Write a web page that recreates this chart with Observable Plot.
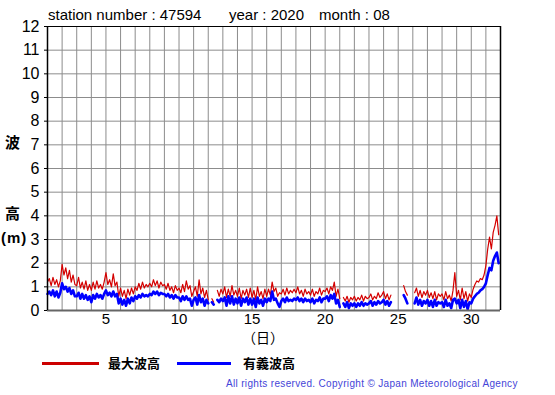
<!DOCTYPE html>
<html>
<head>
<meta charset="utf-8">
<script src="https://cdn.jsdelivr.net/npm/d3@7"></script>
<script src="https://cdn.jsdelivr.net/npm/@observablehq/plot@0.6"></script>
<style>
  body { margin: 0; background: #fff; font-family: "Liberation Sans", Arial, sans-serif; }
  #wrap { position: relative; width: 555px; height: 395px; overflow: hidden; }
  #chart { position: absolute; left: 0; top: 0; }
  .abs { position: absolute; white-space: nowrap; line-height: 1; }
  .title { font-size: 15px; color: #000; top: 7px; }
  .ylab { font-family: "Noto Sans CJK JP", sans-serif; font-size: 15px; font-weight: bold; color: #000; }
  .leg { font-family: "Noto Sans CJK JP", sans-serif; font-size: 13px; font-weight: bold; color: #000; top: 356px; }
  .swatch { position: absolute; height: 3px; top: 362px; }
  .copy { font-size: 10px; color: #4444d8; letter-spacing: 0.33px; top: 379px; left: 226px; }
</style>
</head>
<body>
<div id="wrap">
  <div id="chart"></div>
  <div class="abs title" style="left:48px">station number : 47594</div>
  <div class="abs title" style="left:229px">year : 2020</div>
  <div class="abs title" style="left:319px">month : 08</div>
  <div class="abs ylab" style="left:5px; top:134px">波</div>
  <div class="abs ylab" style="left:5px; top:205px">高</div>
  <div class="abs ylab" style="left:1px; top:230px; font-family:'Liberation Sans', Arial, sans-serif; letter-spacing:1px">(m)</div>
  <div class="abs ylab" style="left:242px; top:330px; font-size:14px; font-weight:normal">（日）</div>
  <div class="swatch" style="left:42px; width:57px; background:#cc0000"></div>
  <div class="abs leg" style="left:108px">最大波高</div>
  <div class="swatch" style="left:177px; width:54px; background:#0000ff"></div>
  <div class="abs leg" style="left:243px">有義波高</div>
  <div class="abs copy">All rights reserved. Copyright © Japan Meteorological Agency</div>
</div>
<script>
// 3-hourly readings (00,03,...,21 h) for each day of August 2020, metres
const maxWave = [
  [1.2,1.35,1.05,1.4,1.1,1.3,1.0,1.25],
  [1.95,1.5,1.8,1.35,1.7,1.2,1.5,1.1],
  [1.05,1.4,0.95,1.2,0.9,1.25,0.85,1.1],
  [0.85,1.2,0.9,1.25,0.95,1.1,0.9,1.2],
  [1.6,1.1,1.3,1.0,1.55,1.05,1.2,0.6],
  [0.95,0.6,0.85,0.5,0.9,0.65,0.95,0.7],
  [1.0,0.85,1.15,0.9,1.2,0.95,1.1,1.0],
  [1.15,1.0,1.3,1.05,1.25,0.95,1.2,1.05],
  [1.1,0.9,1.15,0.85,1.0,0.75,1.05,0.85],
  [0.95,0.75,1.1,0.8,1.25,0.9,1.05,0.6],
  [0.8,1.0,0.6,1.3,0.7,0.95,0.55,0.85],
  [0.45,null,0.5,0.35,null,0.85,0.6,0.9],
  [0.7,1.0,0.55,0.9,0.6,1.05,0.65,0.85],
  [0.6,0.95,0.5,0.85,0.65,0.9,0.55,0.95],
  [0.55,0.85,0.45,1.0,0.6,0.8,0.5,0.9],
  [0.6,0.9,0.65,1.2,0.8,0.95,0.6,0.75],
  [0.7,0.9,0.65,0.95,0.7,0.85,0.75,0.9],
  [0.75,1.0,0.7,0.85,0.6,0.9,0.7,0.8],
  [0.65,0.9,0.6,0.8,0.7,0.95,0.65,0.85],
  [0.8,0.95,0.7,1.0,0.85,1.2,0.6,0.9],
  [0.5,null,0.55,0.4,0.6,0.35,0.55,0.45],
  [0.6,0.4,0.55,0.45,0.65,0.4,0.6,0.5],
  [0.55,0.7,0.45,0.6,0.5,0.75,0.55,0.65],
  [0.8,0.5,0.7,0.45,0.65,null,null,null],
  [null,null,null,1.05,0.8,0.65,null,null],
  [null,0.75,0.95,0.6,0.85,0.55,0.8,0.65],
  [0.85,0.55,0.75,0.5,0.8,0.45,0.7,0.6],
  [0.7,0.45,0.8,0.5,0.65,0.4,0.85,1.6],
  [0.6,0.85,0.45,0.95,0.5,0.8,0.4,0.7],
  [0.55,0.9,1.1,1.25,1.2,1.35,1.3,1.5],
  [1.9,2.6,3.1,2.6,3.3,3.6,4.0,3.2]
];
const sigWave = [
  [0.7,0.8,0.65,0.85,0.6,0.8,0.55,0.75],
  [1.15,0.9,1.0,0.8,0.95,0.7,0.85,0.6],
  [0.6,0.75,0.5,0.7,0.5,0.65,0.45,0.6],
  [0.35,0.65,0.5,0.7,0.55,0.65,0.5,0.7],
  [0.85,0.65,0.75,0.6,0.8,0.6,0.7,0.3],
  [0.5,0.25,0.45,0.2,0.5,0.3,0.55,0.4],
  [0.6,0.5,0.65,0.55,0.7,0.6,0.65,0.6],
  [0.7,0.65,0.8,0.7,0.8,0.65,0.75,0.7],
  [0.7,0.6,0.7,0.55,0.65,0.5,0.65,0.55],
  [0.55,0.4,0.6,0.45,0.6,0.45,0.5,0.2],
  [0.45,0.55,0.25,0.65,0.35,0.5,0.2,0.45],
  [0.3,null,0.35,0.25,null,0.45,0.35,0.5],
  [0.4,0.55,0.2,0.6,0.3,0.6,0.25,0.5],
  [0.3,0.55,0.2,0.5,0.35,0.55,0.25,0.5],
  [0.25,0.5,0.15,0.55,0.3,0.45,0.2,0.5],
  [0.35,0.5,0.4,0.8,0.45,0.5,0.3,0.15],
  [0.4,0.5,0.35,0.55,0.4,0.45,0.4,0.5],
  [0.45,0.55,0.4,0.5,0.35,0.5,0.4,0.45],
  [0.35,0.5,0.3,0.45,0.4,0.55,0.35,0.5],
  [0.5,0.6,0.4,0.65,0.5,0.7,0.3,0.45],
  [0.15,null,0.3,0.15,0.35,0.1,0.3,0.2],
  [0.3,0.15,0.3,0.2,0.35,0.2,0.3,0.25],
  [0.3,0.4,0.2,0.35,0.25,0.4,0.3,0.35],
  [0.45,0.25,0.4,0.2,0.35,null,null,null],
  [null,null,null,0.65,0.5,0.3,null,null],
  [null,0.3,0.55,0.25,0.45,0.2,0.4,0.3],
  [0.45,0.2,0.4,0.15,0.45,0.2,0.35,0.3],
  [0.35,0.15,0.45,0.2,0.3,0.1,0.45,0.5],
  [0.3,0.45,0.1,0.45,0.15,0.4,0.05,0.35],
  [0.3,0.5,0.6,0.7,0.75,0.85,0.9,1.0],
  [1.15,1.5,1.8,1.7,2.1,2.3,2.45,2.0]
];
const dayTicks = [5, 10, 15, 20, 25, 30];
const heightTicks = [0,1,2,3,4,5,6,7,8,9,10,11,12];

const rows = [];
maxWave.forEach((day, d) => day.forEach((v, h) => {
  rows.push({t: 1 + d + h / 8, max: v, sig: sigWave[d][h]});
}));

const chart = Plot.plot({
  width: 555,
  height: 345,
  marginLeft: 47,
  marginRight: 55,
  marginTop: 26,
  marginBottom: 35,
  style: {fontFamily: "'Liberation Sans', Arial, sans-serif", fontSize: "15px", background: "transparent", color: "#000"},
  x: {domain: [1, 32], label: null},
  y: {domain: [0, 12], label: null},
  marks: [
    Plot.gridX(d3.range(2, 32), {stroke: "#8c8c8c", strokeOpacity: 1, strokeWidth: 1}),
    Plot.gridY(d3.range(1, 12), {stroke: "#8c8c8c", strokeOpacity: 1, strokeWidth: 1}),
    Plot.line(rows, {x: "t", y: "max", stroke: "#d40000", strokeWidth: 1.2, curve: "linear"}),
    Plot.line(rows, {x: "t", y: "sig", stroke: "#0000ff", strokeWidth: 2.6, curve: "linear"}),
    Plot.ruleY([0], {stroke: "#666", strokeWidth: 2}),
    Plot.ruleX([1], {stroke: "#000", strokeWidth: 1.5}),
    Plot.ruleX([32], {stroke: "#000", strokeWidth: 1.5}),
    Plot.ruleY([12], {stroke: "#000", strokeWidth: 1.2}),
    Plot.axisX(dayTicks, {tickSize: 0, tickPadding: 3, fontSize: 15}),
    Plot.axisY(heightTicks, {tickSize: 3, tickPadding: 5, fontSize: 16})
  ]
});
document.getElementById("chart").appendChild(chart);
</script>
</body>
</html>
